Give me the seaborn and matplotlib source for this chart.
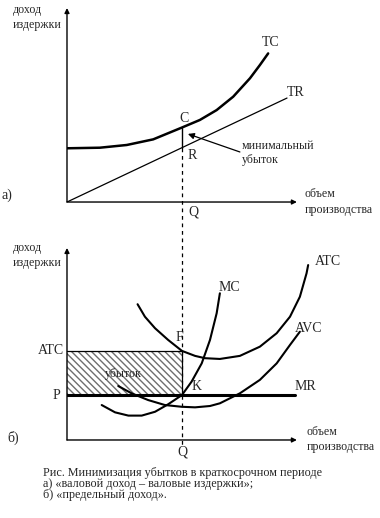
import numpy as np
import pandas as pd
import matplotlib
matplotlib.use("Agg")
import matplotlib.pyplot as plt
import seaborn as sns

# ── data (quantity on x, money on y, arbitrary units) ─────────────────────────
tc_q = [0.0, 1.43, 2.60, 3.75, 5.0, 5.78, 6.51, 7.23, 7.96, 8.39, 8.75]
tc_v = [2.77, 2.80, 2.94, 3.23, 3.84, 4.23, 4.74, 5.43, 6.38, 7.06, 7.66]
tr_q = [0.0, 9.57]
tr_v = [0.0, 5.36]

atc_q = [3.07, 3.39, 3.83, 4.40, 5.0, 5.57, 6.0, 6.65, 7.52, 8.39, 9.12, 9.70, 10.13, 10.42, 10.49]
atc_v = [7.07, 6.42, 5.82, 5.21, 4.64, 4.38, 4.26, 4.22, 4.38, 4.86, 5.56, 6.42, 7.46, 8.68, 9.11]
mc_q = [1.51, 2.09, 2.67, 3.25, 3.83, 4.40, 5.0, 5.42, 5.86, 6.22, 6.51, 6.65]
mc_v = [1.82, 1.44, 1.27, 1.27, 1.47, 1.86, 2.34, 3.04, 3.99, 5.21, 6.60, 7.64]
avc_q = [2.23, 2.81, 3.53, 4.26, 4.99, 5.57, 6.22, 6.65, 7.52, 8.39, 9.12, 9.70, 10.13]
avc_v = [2.81, 2.43, 2.08, 1.82, 1.73, 1.70, 1.77, 1.91, 2.43, 3.13, 3.99, 4.95, 5.64]
mr_q = [0.0, 9.91]

Q = 5.0
P = 2.34
ATC_Q = 4.64
TC_Q, TR_Q = 3.84, 2.80

caption = ["Рис. Минимизация убытков в краткосрочном периоде",
           "а) «валовой доход – валовые издержки»;",
           "б) «предельный доход»."]

sns.set_theme(style="white")
plt.rcParams["font.family"] = ["Liberation Serif", "DejaVu Serif"]
RU = 8.6   # russian words
LAT = 10   # curve / point letters

fig = plt.figure(figsize=(3.8, 5.18), dpi=100)
ax1 = fig.add_axes([0.1763, 0.610, 0.605, 0.3745])
ax2 = fig.add_axes([0.1763, 0.1506, 0.605, 0.3707])

for ax in (ax1, ax2):
    ax.set_xlim(0, 10)
    ax.set_ylim(0, 10)
    ax.axis("off")
    ax.annotate("", xy=(0, 1), xytext=(0, 0), xycoords="axes fraction",
                arrowprops=dict(arrowstyle="-|>", color="black", lw=1,
                                mutation_scale=7, shrinkA=0, shrinkB=0))
    ax.annotate("", xy=(1, 0), xytext=(0, 0), xycoords="axes fraction",
                arrowprops=dict(arrowstyle="-|>", color="black", lw=1,
                                mutation_scale=7, shrinkA=0, shrinkB=0))

# ── panel a: total revenue / total cost ──────────────────────────────────────
top = pd.DataFrame({"q": tc_q, "v": tc_v})
sns.lineplot(data=top, x="q", y="v", sort=False, color="black", lw=1.8, ax=ax1)
sns.lineplot(x=tr_q, y=tr_v, color="black", lw=0.9, ax=ax1)
ax1.plot([Q, Q], [TR_Q, TC_Q], color="black", lw=1)
ax1.plot([Q, Q], [TR_Q, -12.6], color="black", lw=0.9, ls=(0, (3, 3)), clip_on=False)
ax1.annotate("", xy=(5.26, 3.51), xytext=(7.52, 2.58),
             arrowprops=dict(arrowstyle="-|>", color="black", lw=0.9,
                             mutation_scale=9, shrinkA=0, shrinkB=0))
ax1.set_xlabel("")
ax1.set_ylabel("")

txt1 = [("доход", -2.35, 9.90, RU), ("издержки", -2.35, 9.12, RU), ("TC", 8.48, 8.20, LAT),
        ("TR", 9.57, 5.67, LAT), ("C", 4.91, 4.33, LAT), ("R", 5.26, 2.42, LAT),
        ("минимальный", 7.61, 2.89, RU), ("убыток", 7.61, 2.16, RU), ("а)", -2.83, 0.36, LAT),
        ("объем", 10.35, 0.41, RU), ("производства", 10.35, -0.41, RU), ("Q", 5.26, -0.52, LAT)]
for s, x, y, fs in txt1:
    ax1.text(x, y, s, ha="left", va="center", fontsize=fs)

# ── panel b: marginal revenue / marginal cost ────────────────────────────────
ax2.fill_between([0, Q], P, ATC_Q, facecolor="white", edgecolor="#6e6e6e",
                 hatch="\\\\\\\\\\", lw=0)
ax2.plot([0, Q, Q], [ATC_Q, ATC_Q, P], color="black", lw=0.9)
for qs, vs in ((atc_q, atc_v), (mc_q, mc_v), (avc_q, avc_v)):
    sns.lineplot(x=qs, y=vs, sort=False, color="black", lw=1.5, ax=ax2).lines[-1].set_clip_on(False)
sns.lineplot(x=mr_q, y=[P, P], color="black", lw=2.2, ax=ax2)
ax2.set_xlabel("")
ax2.set_ylabel("")

txt2 = [("доход", -2.35, 10.0, RU), ("издержки", -2.35, 9.22, RU), ("ATC", 10.78, 9.27, LAT),
        ("MC", 6.57, 7.92, LAT), ("AVC", 9.91, 5.83, LAT), ("MR", 9.91, 2.76, LAT),
        ("F", 4.70, 5.36, LAT), ("K", 5.43, 2.81, LAT), ("ATC", -1.26, ATC_Q, LAT),
        ("P", -0.61, P, LAT), ("убыток", 1.65, 3.44, RU), ("б)", -2.61, 0.10, LAT),
        ("объем", 10.43, 0.42, RU), ("производства", 10.43, -0.36, RU)]
for s, x, y, fs in txt2:
    ax2.text(x, y, s, ha="left", va="center", fontsize=fs)
ax2.text(Q, -0.63, "Q", ha="center", va="center", fontsize=LAT)

for i, line in enumerate(caption):
    fig.text(43 / 380, 1 - (473 + 11 * i) / 518, line, ha="left", va="center", fontsize=8.7)

fig.savefig("out.png", dpi=100)
